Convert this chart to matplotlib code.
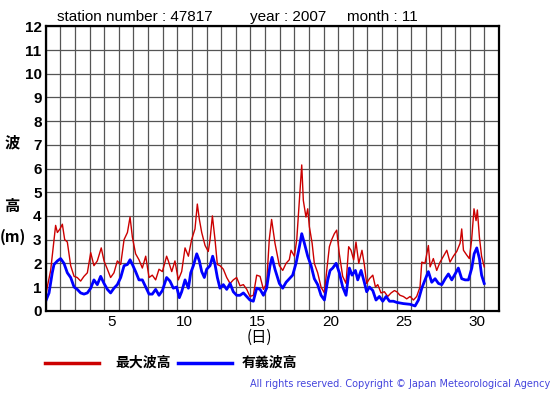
import matplotlib
matplotlib.use("Agg")
import matplotlib.pyplot as plt

# days since 1 Nov 00:00
red_day = [0.00, 0.11, 0.34, 0.57, 0.68, 0.80, 0.98, 1.14, 1.30, 1.48, 1.71, 1.94, 2.16, 2.39, 2.62,
           2.85, 3.08, 3.30, 3.53, 3.80, 3.99, 4.22, 4.44, 4.67, 4.90, 5.13, 5.36, 5.59, 5.77, 5.93,
           6.15, 6.38, 6.61, 6.84, 7.07, 7.29, 7.52, 7.75, 7.98, 8.27, 8.39, 8.62, 8.84, 9.07, 9.30,
           9.53, 9.76, 9.98, 10.21, 10.37, 10.51, 10.67, 10.90, 11.12, 11.24, 11.40, 11.58, 11.74,
           11.92, 12.15, 12.38, 12.61, 12.83, 13.06, 13.29, 13.52, 13.75, 13.97, 14.20, 14.43, 14.66,
           14.89, 15.11, 15.29, 15.45, 15.68, 15.98, 16.21, 16.44, 16.66, 16.78, 17.01, 17.17, 17.35,
           17.51, 17.62, 17.80, 17.92, 18.03, 18.22, 18.37, 18.60, 18.83, 19.06, 19.22, 19.40, 19.56,
           19.74, 19.90, 20.08, 20.31, 20.54, 20.72, 20.88, 21.06, 21.22, 21.41, 21.63, 21.79, 21.95,
           22.14, 22.37, 22.55, 22.71, 22.93, 23.16, 23.39, 23.62, 23.85, 24.01, 24.23, 24.46, 24.69,
           24.92, 25.15, 25.37, 25.60, 25.72, 25.94, 26.17, 26.29, 26.51, 26.74, 26.97, 27.20, 27.43,
           27.65, 27.88, 28.11, 28.34, 28.45, 28.57, 28.79, 28.97, 29.13, 29.29, 29.43, 29.52, 29.66,
           29.81, 29.99]
red_m = [0.6, 1.0, 1.7, 3.0, 3.6, 3.3, 3.45, 3.65, 3.0, 2.9, 1.9, 1.45, 1.4, 1.25, 1.45,
         1.6, 2.45, 1.9, 2.1, 2.65, 2.1, 1.75, 1.4, 1.6, 2.1, 1.95, 3.0, 3.3, 3.95, 3.1,
         2.4, 2.15, 1.8, 2.3, 1.4, 1.5, 1.3, 1.75, 1.65, 2.3, 2.1, 1.65, 2.1, 1.3, 1.65,
         2.65, 2.3, 3.0, 3.45, 4.5, 3.85, 3.3, 2.75, 2.5, 3.0, 4.0, 3.0, 1.95,
         1.9, 1.75, 1.4, 1.15, 1.3, 1.4, 1.05, 1.1, 0.9, 0.6, 0.65, 1.5, 1.45,
         0.9, 1.15, 3.0, 3.85, 2.85, 1.9, 1.7, 2.0, 2.15, 2.55, 2.3, 3.0, 4.65,
         6.15, 4.65, 3.95, 4.3, 3.55, 2.85, 2.0, 1.6, 1.0, 0.75, 1.7, 2.7, 3.0,
         3.25, 3.4, 2.4, 1.45, 1.15, 2.7, 2.55, 2.15, 2.9, 2.0, 2.55, 1.95, 1.15,
         1.35, 1.5, 1.0, 1.1, 0.75, 0.8, 0.6, 0.75, 0.85, 0.8, 0.65, 0.6, 0.5,
         0.6, 0.45, 0.6, 1.0, 2.05, 2.0, 2.75, 1.85, 2.2, 1.7, 2.05, 2.3, 2.55,
         2.05, 2.3, 2.5, 2.85, 3.45, 2.55, 2.35, 2.2, 3.0, 4.3, 3.8, 4.25, 3.1,
         2.3, 1.85]

blue_day = [0.00, 0.23, 0.45, 0.57, 0.80, 1.02, 1.25, 1.48, 1.71, 1.94, 2.16, 2.39, 2.62, 2.85,
            3.08, 3.30, 3.53, 3.76, 3.99, 4.22, 4.44, 4.67, 4.90, 5.13, 5.36, 5.59, 5.77, 5.93,
            6.15, 6.38, 6.61, 6.84, 7.07, 7.29, 7.52, 7.75, 7.98, 8.27, 8.50, 8.73, 8.96, 9.14,
            9.30, 9.53, 9.76, 9.92, 10.10, 10.33, 10.51, 10.67, 10.85, 11.01, 11.24, 11.42, 11.58,
            11.74, 11.92, 12.15, 12.38, 12.61, 12.83, 13.06, 13.29, 13.52, 13.75, 13.97, 14.20,
            14.43, 14.66, 14.89, 15.11, 15.34, 15.48, 15.68, 15.98, 16.21, 16.44, 16.66, 16.89,
            17.12, 17.35, 17.51, 17.69, 17.92, 18.15, 18.37, 18.60, 18.83, 19.06, 19.29, 19.45,
            19.63, 19.86, 20.08, 20.31, 20.54, 20.77, 20.95, 21.18, 21.34, 21.57, 21.79, 21.95,
            22.14, 22.37, 22.59, 22.82, 23.05, 23.28, 23.51, 23.78, 24.01, 24.46, 24.92, 25.26,
            25.49, 25.72, 25.94, 26.17, 26.40, 26.63, 26.86, 27.09, 27.32, 27.54, 27.77, 28.00,
            28.22, 28.45, 28.68, 28.91, 29.14, 29.30, 29.48, 29.66, 29.81, 29.99]
blue_m = [0.4, 0.75, 1.6, 1.95, 2.1, 2.2, 2.0, 1.6, 1.4, 1.0, 0.9, 0.75, 0.7, 0.75,
          0.95, 1.3, 1.1, 1.45, 1.15, 0.9, 0.75, 0.95, 1.1, 1.4, 1.9, 1.95, 2.15, 1.95,
          1.65, 1.3, 1.3, 1.0, 0.7, 0.7, 0.9, 0.65, 0.85, 1.4, 1.25, 0.95, 1.0, 0.55,
          0.8, 1.3, 0.95, 1.6, 1.9, 2.4, 2.1, 1.65, 1.4, 1.75, 1.9, 2.3, 1.95,
          1.4, 0.95, 1.1, 0.9, 1.15, 0.8, 0.65, 0.65, 0.75, 0.6, 0.45, 0.4,
          0.95, 0.9, 0.65, 0.95, 1.9, 2.25, 1.75, 1.15, 0.95, 1.2, 1.35, 1.5,
          2.0, 2.7, 3.25, 2.85, 2.3, 1.9, 1.35, 1.1, 0.65, 0.45, 1.3, 1.7,
          1.8, 2.0, 1.6, 1.0, 0.65, 1.8, 1.5, 1.7, 1.3, 1.7, 1.2, 0.8,
          1.0, 0.85, 0.45, 0.6, 0.4, 0.6, 0.4, 0.4, 0.35, 0.3, 0.27, 0.2,
          0.45, 0.95, 1.3, 1.65, 1.2, 1.35, 1.15, 1.1, 1.35, 1.55, 1.3, 1.55,
          1.8, 1.35, 1.3, 1.3, 1.8, 2.4, 2.65, 2.2, 1.5, 1.15]

day_labels = [5, 10, 15, 20, 25, 30]

font = "Liberation Sans"
cjk = ["Noto Sans CJK JP", "DejaVu Sans"]

fig = plt.figure(figsize=(5.55, 3.95), dpi=100)
ax = fig.add_axes([0.0823, 0.2134, 0.8168, 0.72])

ax.plot(red_day, red_m, color="#cc0000", lw=1.0)
ax.plot(blue_day, blue_m, color="#0000ff", lw=2.0)

ax.set_xlim(0, 31)
ax.set_ylim(0, 12)
ax.set_xticks(range(0, 32), minor=True)
ax.set_xticks([d - 0.5 for d in day_labels])
ax.set_xticklabels([str(d) for d in day_labels], fontsize=11, family=font)
ax.set_yticks(range(0, 13))
ax.set_yticklabels([str(v) for v in range(0, 13)], fontsize=11, family=font, fontweight="bold")
ax.tick_params(which="both", length=0, pad=3)
ax.grid(which="minor", axis="x", color="#555555", lw=0.9)
ax.grid(which="major", axis="y", color="#555555", lw=0.9)
ax.set_axisbelow(True)
for s in ax.spines.values():
    s.set_linewidth(1.6)
    s.set_color("black")

# title line
ty = 1 - 17 / 395
fig.text(57 / 555, ty, "station number : 47817", fontsize=11, family=font, va="center")
fig.text(250 / 555, ty, "year : 2007", fontsize=11, family=font, va="center")
fig.text(347 / 555, ty, "month : 11", fontsize=11, family=font, va="center")

# y axis label, stacked
fig.text(12 / 555, 1 - 142 / 395, "波", fontsize=11, family=cjk, fontweight="bold", ha="center", va="center")
fig.text(12 / 555, 1 - 206 / 395, "高", fontsize=11, family=cjk, fontweight="bold", ha="center", va="center")
fig.text(13 / 555, 1 - 237 / 395, "(m)", fontsize=11, family=cjk, fontweight="bold", ha="center", va="center")

fig.text(259 / 555, 1 - 337 / 395, "(日)", fontsize=11, family=cjk, ha="center", va="center")

# legend drawn by hand under the axes
ly = 1 - 363 / 395
fig.add_artist(plt.Line2D([45 / 555, 99 / 555], [ly, ly], color="#cc0000", lw=2.5))
fig.text(115 / 555, ly, "最大波高", fontsize=10, family=cjk, fontweight="bold", va="center")
fig.add_artist(plt.Line2D([178 / 555, 232 / 555], [ly, ly], color="#0000ff", lw=2.5))
fig.text(242 / 555, ly, "有義波高", fontsize=10, family=cjk, fontweight="bold", va="center")

fig.text(550 / 555, 1 - 384 / 395, "All rights reserved. Copyright © Japan Meteorological Agency",
         fontsize=7, family="DejaVu Sans", color="#4444dd", ha="right", va="center")

fig.savefig("out.png", dpi=100)
